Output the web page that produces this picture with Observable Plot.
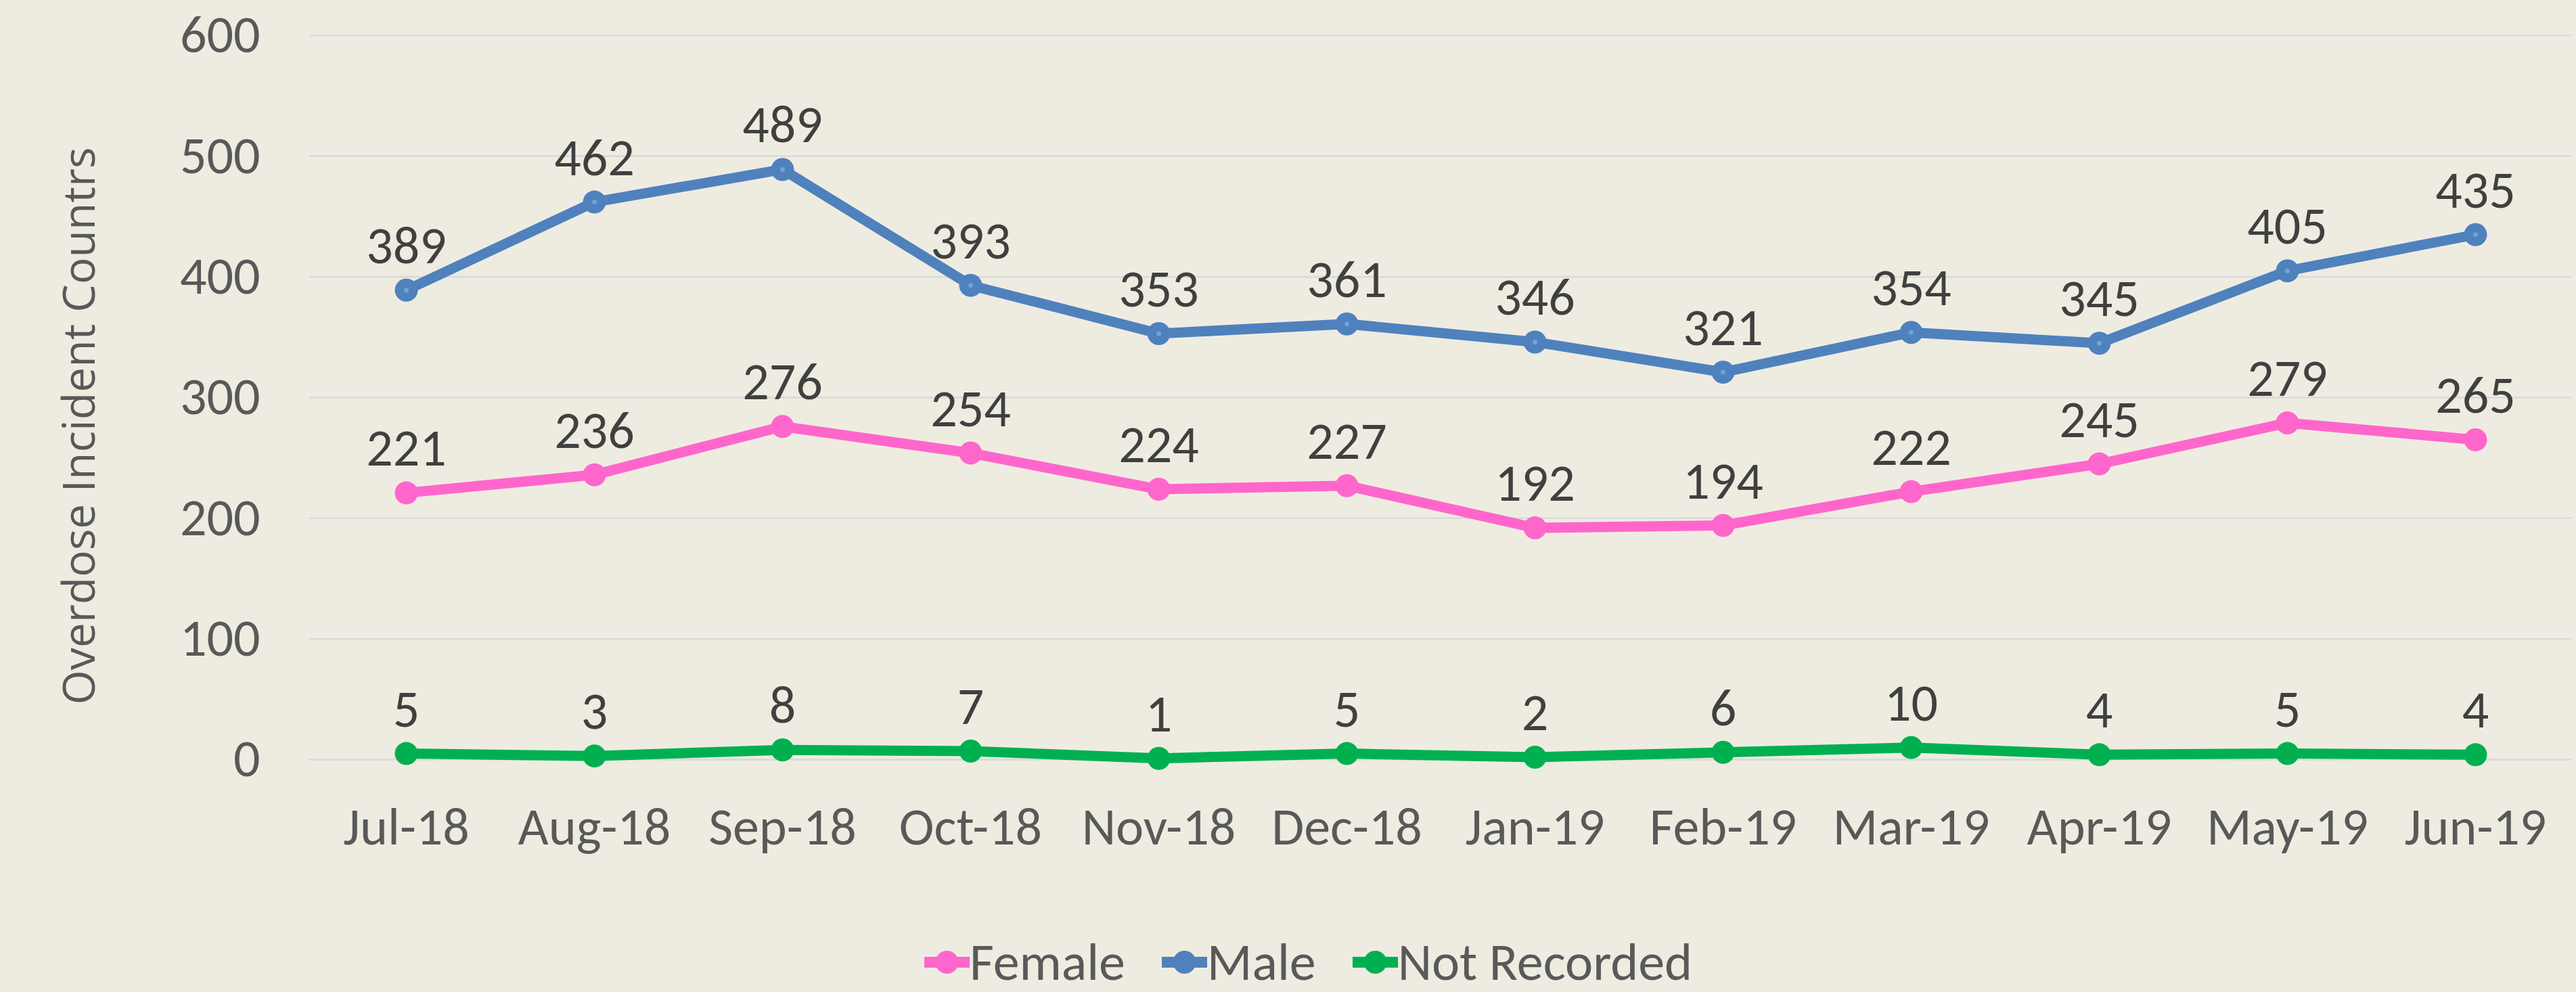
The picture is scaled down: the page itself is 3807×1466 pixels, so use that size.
<!DOCTYPE html>
<html>
<head>
<meta charset="utf-8">
<script src="https://cdn.jsdelivr.net/npm/d3@7"></script>
<script src="https://cdn.jsdelivr.net/npm/@observablehq/plot@0.6"></script>
<style>
  html, body { margin: 0; padding: 0; background: #EEECE1; }
  #chart { width: 3807px; background: #EEECE1; }
  #chart svg { display: block; }
  .legend { display: flex; justify-content: center; align-items: center; height: 100px; padding-left: 60px; padding-top: 12px; box-sizing: border-box; }
  .legend .item { display: flex; align-items: center; margin: 0 27px; }
  .legend .item span { color: #595959; line-height: 1.2; }
  .legend svg { display: block; }
</style>
</head>
<body>
<div id="chart"></div>
<script>
// ---- data ----
const months = ["Jul-18","Aug-18","Sep-18","Oct-18","Nov-18","Dec-18","Jan-19","Feb-19","Mar-19","Apr-19","May-19","Jun-19"];
const female = [221, 236, 276, 254, 224, 227, 192, 194, 222, 245, 279, 265];
const male = [389, 462, 489, 393, 353, 361, 346, 321, 354, 345, 405, 435];
const notRecorded = [5, 3, 8, 7, 1, 5, 2, 6, 10, 4, 5, 4];
const seriesNames = ["Female", "Male", "Not Recorded"];
const seriesColors = ["#FF66CC", "#4F81BD", "#00B050"];
const yTicks = [0, 100, 200, 300, 400, 500, 600];
const yLabel = "Overdose Incident Countrs";

// ---- font choice ----
function hasFont(name) {
  const c = document.createElement("canvas").getContext("2d");
  const s = "Jul-18 Aug-18 600 Female";
  c.font = "72px monospace";
  const a = c.measureText(s).width;
  c.font = `72px '${name}', monospace`;
  const b = c.measureText(s).width;
  return a !== b;
}
let tickFont = "Lato, sans-serif";
let tickSize = 72;
if (hasFont("Carlito")) { tickFont = "Carlito, sans-serif"; tickSize = 78; }
else if (hasFont("Liberation Sans Narrow")) { tickFont = "'Liberation Sans Narrow', sans-serif"; tickSize = 74; }

// ---- table ----
const seriesValues = [female, male, notRecorded];
const rows = [];
seriesNames.forEach((s, i) => months.forEach((m, j) => rows.push({series: s, month: m, value: seriesValues[i][j]})));

const chart = Plot.plot({
  width: 3807,
  height: 1366,
  marginLeft: 457,
  marginRight: 7,
  marginTop: 52,
  marginBottom: 244,
  style: {background: "transparent", fontFamily: tickFont, color: "#595959", overflow: "visible"},
  x: {type: "point", domain: months, padding: 0.5},
  y: {domain: [0, 600]},
  color: {domain: seriesNames, range: seriesColors},
  marks: [
    Plot.gridY(yTicks, {stroke: "#D9D9D9", strokeOpacity: 1, strokeWidth: 2.5}),
    Plot.axisY(yTicks, {tickSize: 0, tickPadding: 73, fontSize: tickSize, fill: "#595959", label: null}),
    Plot.axisX({tickSize: 0, tickPadding: 70, fontSize: tickSize, fill: "#595959", label: null}),
    Plot.text([yLabel], {frameAnchor: "left", textAnchor: "middle", lineAnchor: "middle", rotate: -90, dx: -339, dy: 42, fontSize: 66, fontFamily: "'Open Sans', sans-serif", fill: "#595959"}),
    Plot.line(rows, {x: "month", y: "value", z: "series", stroke: "series", strokeWidth: 15}),
    Plot.dot(rows, {x: "month", y: "value", fill: "series", r: 17}),
    Plot.dot(rows.filter(d => d.series === "Male"), {x: "month", y: "value", fill: "#6FA3DB", r: 3.5}),
    Plot.text(rows, {x: "month", y: "value", text: d => String(d.value), dy: -40, lineAnchor: "bottom", fontSize: tickSize, fill: "#404040"})
  ]
});
document.getElementById("chart").appendChild(chart);

// ---- legend ----
const legend = document.createElement("div");
legend.className = "legend";
legend.style.fontFamily = tickFont;
seriesNames.forEach((name, i) => {
  const item = document.createElement("div");
  item.className = "item";
  const col = seriesColors[i];
  item.innerHTML = `<svg width="67" height="36" viewBox="0 0 67 36"><line x1="0" x2="67" y1="18" y2="18" stroke="${col}" stroke-width="16"/><circle cx="33.5" cy="18" r="17" fill="${col}"/></svg>`;
  const label = document.createElement("span");
  label.textContent = name;
  label.style.fontSize = tickSize + "px";
  item.appendChild(label);
  legend.appendChild(item);
});
document.getElementById("chart").appendChild(legend);
</script>
</body>
</html>
